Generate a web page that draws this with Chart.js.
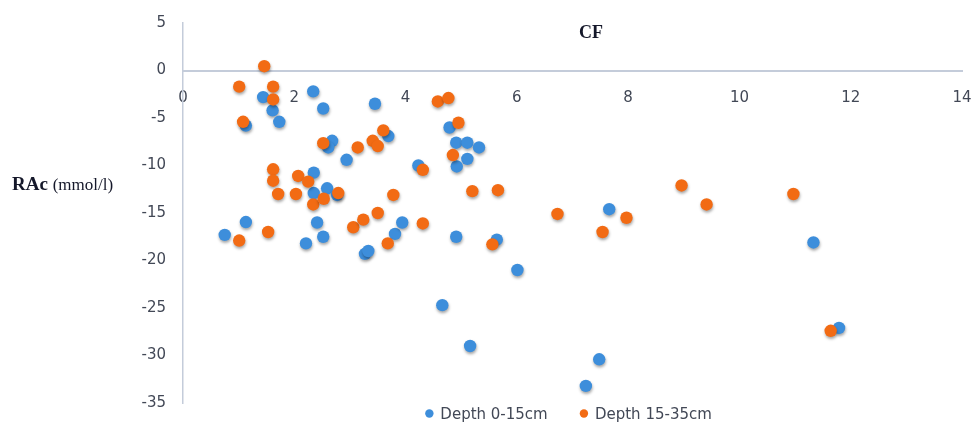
<!DOCTYPE html>
<html>
<head>
<meta charset="utf-8">
<title>RAc vs CF</title>
<script src="https://cdn.jsdelivr.net/npm/chart.js@4.4.1/dist/chart.umd.min.js"></script>
<style>
  html, body { margin: 0; padding: 0; background: #ffffff; }
  #wrap { width: 971px; height: 423px; position: relative; }
</style>
</head>
<body>
<div id="wrap"><canvas id="c" width="971" height="423"></canvas></div>
<script>
// Series labels
const seriesNames = ['Depth 0-15cm', 'Depth 15-35cm'];

// Depth 0-15cm: CF (x) and RAc (y)
const shallowCF = [0.75, 1.13, 1.13, 1.44, 1.61, 1.73, 2.34, 2.52, 2.68, 2.61,
  2.94, 3.45, 3.69, 4.23, 4.79, 4.91, 5.11, 5.32, 5.11, 4.92,
  2.35, 2.35, 2.59, 2.77, 2.41, 2.21, 2.52, 3.27, 3.33, 3.81,
  3.94, 4.91, 4.66, 5.16, 5.64, 6.01, 7.66, 7.48, 7.24, 11.33, 11.79];
const shallowRAc = [-17.3, -15.95, -5.8, -2.8, -4.2, -5.4, -2.2, -4.0, -7.4, -8.1,
  -9.4, -3.5, -6.9, -10.0, -6.0, -7.6, -7.6, -8.1, -9.3, -10.1,
  -10.75, -12.9, -12.4, -13.1, -16.0, -18.2, -17.5, -19.3, -19.0, -17.2,
  -16.0, -17.5, -24.7, -29.0, -17.8, -21.0, -14.6, -30.4, -33.2, -18.1, -27.1];

// Depth 15-35cm: CF (x) and RAc (y)
const deepCF = [1.46, 1.01, 1.62, 1.62, 1.08, 2.52, 3.14, 3.41, 3.50, 3.60,
  4.58, 4.77, 4.95, 4.85, 4.31, 1.62, 1.62, 1.71, 2.07, 2.03,
  2.25, 2.34, 2.53, 2.79, 3.78, 5.20, 5.66, 3.06, 3.24, 3.50,
  3.68, 4.31, 1.53, 1.01, 5.56, 6.73, 7.54, 7.97, 8.96, 9.41, 10.97, 11.64];
const deepRAc = [0.45, -1.7, -1.7, -3.05, -5.4, -7.65, -8.1, -7.4, -7.95, -6.3,
  -3.26, -2.9, -5.5, -8.9, -10.45, -10.4, -11.6, -13.0, -11.1, -13.0,
  -11.7, -14.1, -13.5, -12.9, -13.1, -12.7, -12.6, -16.5, -15.7, -15.0,
  -18.2, -16.1, -17.0, -17.9, -18.3, -15.1, -17.0, -15.5, -12.1, -14.1, -13.0, -27.4];

// Axis ticks
const xTicks = [0, 2, 4, 6, 8, 10, 12, 14];
const yTicks = [5, 0, -5, -10, -15, -20, -25, -30, -35];

const blue = '#3d8edb';
const orange = '#f26b14';
const axisGrey = '#c4ccda';
const tickColor = '#424856';
const sansFamily = '"DejaVu Sans", sans-serif';
const serifFamily = '"Liberation Serif", "Times New Roman", serif';

const toPoints = (xs, ys) => xs.map((x, i) => ({ x: x, y: ys[i] }));

// Soft drop shadow under the markers
const markerShadow = {
  id: 'markerShadow',
  beforeDatasetsDraw(chart) {
    const ctx = chart.ctx;
    ctx.save();
    ctx.shadowColor = 'rgba(0,0,0,0.35)';
    ctx.shadowBlur = 3;
    ctx.shadowOffsetX = 0.5;
    ctx.shadowOffsetY = 2;
  },
  afterDatasetsDraw(chart) {
    chart.ctx.restore();
  }
};

// Axis captions and the legend row underneath
const captions = {
  id: 'captions',
  afterDraw(chart) {
    const ctx = chart.ctx;
    ctx.save();
    ctx.fillStyle = '#15182a';
    ctx.textBaseline = 'alphabetic';
    ctx.textAlign = 'center';
    ctx.font = 'bold 18px ' + serifFamily;
    ctx.fillText('CF', 591, 38);

    ctx.textAlign = 'left';
    ctx.font = 'bold 19px ' + serifFamily;
    ctx.fillText('RAc', 12, 190);
    const w = ctx.measureText('RAc ').width;
    ctx.font = '17px ' + serifFamily;
    ctx.fillText('(mmol/l)', 12 + w, 190);

    // legend
    ctx.font = '15px ' + sansFamily;
    const items = chart.data.datasets.map(ds => ({ label: ds.label, color: ds.backgroundColor }));
    const r = 4.2, gapText = 11, gapItem = 32;
    let total = 0;
    items.forEach((it, i) => {
      it.w = r + gapText + ctx.measureText(it.label).width;
      total += it.w + (i ? gapItem : 0);
    });
    let x = 568.5 - total / 2;
    items.forEach(it => {
      ctx.fillStyle = it.color;
      ctx.beginPath();
      ctx.arc(x + r, 413.5, r, 0, Math.PI * 2);
      ctx.fill();
      ctx.fillStyle = tickColor;
      ctx.fillText(it.label, x + r + gapText, 419);
      x += it.w + gapItem;
    });
    ctx.restore();
  }
};

new Chart(document.getElementById('c'), {
  type: 'scatter',
  data: {
    datasets: [
      {
        label: seriesNames[0],
        data: toPoints(shallowCF, shallowRAc),
        backgroundColor: blue,
        borderColor: blue,
        borderWidth: 0,
        pointRadius: 6.2,
        pointHoverRadius: 6.2,
        order: 1
      },
      {
        label: seriesNames[1],
        data: toPoints(deepCF, deepRAc),
        backgroundColor: orange,
        borderColor: orange,
        borderWidth: 0,
        pointRadius: 6.2,
        pointHoverRadius: 6.2,
        order: 0
      }
    ]
  },
  options: {
    responsive: false,
    animation: false,
    events: [],
    layout: { padding: { left: 0, right: 9, top: 23, bottom: 20 } },
    plugins: {
      legend: { display: false },
      tooltip: { enabled: false },
      title: { display: false }
    },
    scales: {
      x: {
        type: 'linear',
        position: { y: 0 },
        min: xTicks[0],
        max: xTicks[xTicks.length - 1],
        afterBuildTicks(scale) { scale.ticks = xTicks.map(v => ({ value: v })); },
        afterFit(scale) { scale.paddingLeft = 0; scale.paddingRight = 0; },
        grid: { display: false, drawTicks: false },
        border: { display: true, color: axisGrey, width: 2 },
        ticks: {
          padding: 19,
          color: tickColor,
          font: { family: sansFamily, size: 15 },
          maxRotation: 0
        }
      },
      y: {
        type: 'linear',
        position: 'left',
        min: yTicks[yTicks.length - 1],
        max: yTicks[0],
        afterBuildTicks(scale) { scale.ticks = yTicks.map(v => ({ value: v })); },
        afterFit(scale) { scale.width = 183; scale.paddingTop = 0; scale.paddingBottom = 0; },
        grid: { display: false, drawTicks: false },
        border: { display: true, color: axisGrey, width: 1.5 },
        ticks: {
          padding: 17,
          color: tickColor,
          font: { family: sansFamily, size: 15 }
        }
      }
    }
  },
  plugins: [markerShadow, captions]
});
</script>
</body>
</html>
